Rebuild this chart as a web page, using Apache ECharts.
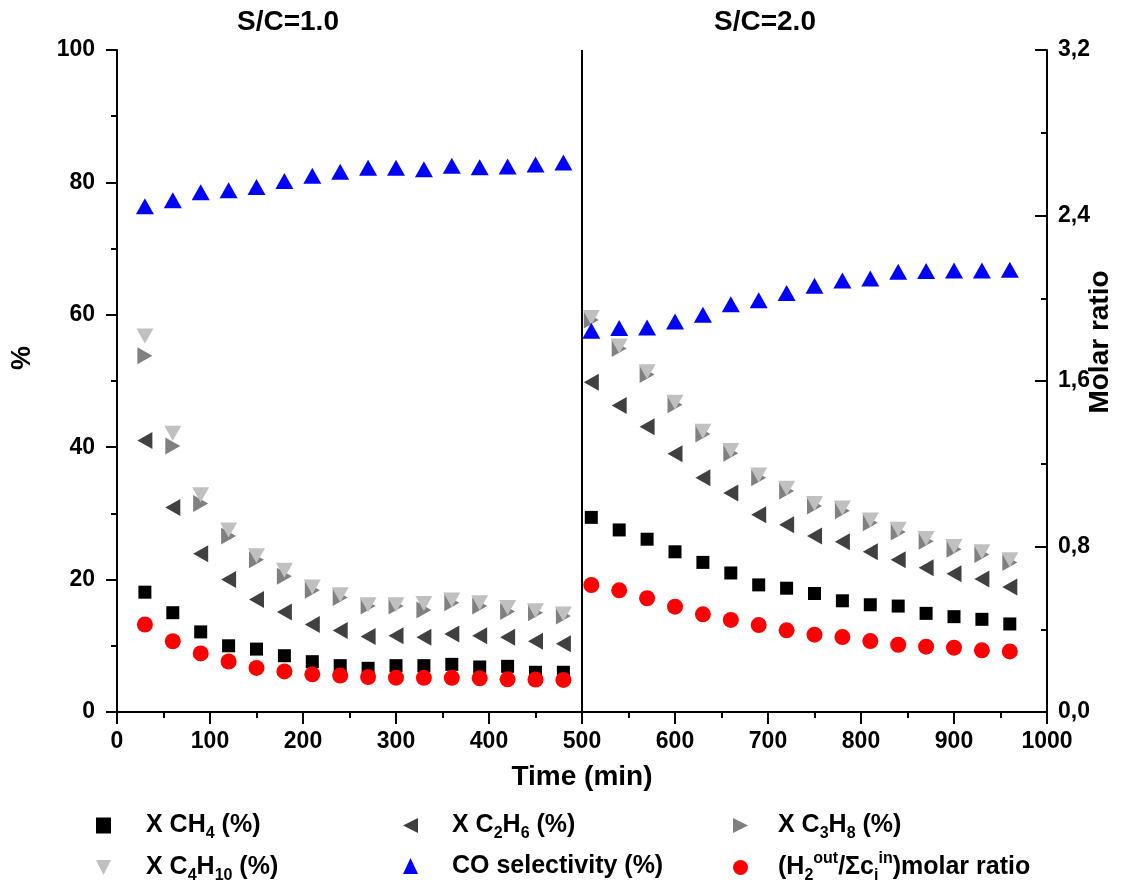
<!DOCTYPE html>
<html>
<head>
<meta charset="utf-8">
<script src="https://cdn.jsdelivr.net/npm/echarts@6/dist/echarts.min.js"></script>
<style>html,body{margin:0;padding:0;background:#fff;}#chart{width:1142px;height:886px;}</style>
</head>
<body>
<div id="chart"></div>
<script>
// ---- data ----
var time = [30,60,90,120,150,180,210,240,270,300,330,360,390,420,450,480,
            510,540,570,600,630,660,690,720,750,780,810,840,870,900,930,960];
var xCH4 = [18.1,15.0,12.1,10.0,9.5,8.5,7.6,7.0,6.6,7.0,7.0,7.2,6.8,6.9,6.0,6.0,
            29.4,27.5,26.1,24.2,22.6,21.0,19.2,18.7,17.9,16.8,16.2,16.0,14.9,14.4,14.0,13.3];
var xC2H6 = [41.0,30.9,23.9,20.0,17.0,15.1,13.2,12.3,11.4,11.5,11.3,11.8,11.5,11.3,10.7,10.3,
             49.8,46.3,43.1,39.0,35.4,33.1,29.8,28.3,26.6,25.7,24.2,23.0,21.8,20.9,20.1,18.9];
var xC3H8 = [53.8,40.2,31.5,26.6,23.0,20.5,18.4,17.3,16.0,16.0,15.4,16.5,16.0,15.2,15.0,14.5,
             59.2,54.9,51.0,46.4,42.0,39.1,35.4,33.4,31.1,30.4,28.6,27.2,25.8,24.6,23.8,22.6];
var xC4H10 = [56.8,42.1,32.8,27.5,23.6,21.4,18.9,17.7,16.2,16.2,16.4,16.9,16.5,15.8,15.3,14.8,
              59.6,55.3,51.4,46.8,42.4,39.5,35.8,33.8,31.5,30.8,29.0,27.6,26.2,25.0,24.2,23.0];
var coSel = [76.4,77.3,78.5,78.8,79.3,80.2,81.0,81.6,82.2,82.2,82.0,82.5,82.3,82.4,82.7,83.0,
             57.6,58.0,58.1,59.0,60.0,61.6,62.2,63.3,64.4,65.2,65.5,66.5,66.6,66.7,66.7,66.8];
var h2Ratio = [0.423,0.342,0.283,0.244,0.213,0.196,0.182,0.176,0.169,0.166,0.165,0.165,0.163,0.158,0.157,0.155,
               0.614,0.588,0.550,0.509,0.472,0.445,0.420,0.395,0.374,0.362,0.343,0.325,0.316,0.311,0.298,0.293];
var phaseLabels = ['S/C=1.0', 'S/C=2.0'];
var switchTime = 500;

// ---- chart ----
var FONT = '"Liberation Sans", Arial, sans-serif';
function pairs(ys) { return time.map(function (t, i) { return [t, ys[i]]; }); }

var names = {
  ch4: 'X CH4 (%)', c2h6: 'X C2H6 (%)', c3h8: 'X C3H8 (%)',
  c4h10: 'X C4H10 (%)', co: 'CO selectivity (%)', h2: 'H2 molar ratio'
};
var legendText = {};
legendText[names.ch4] = 'X CH{sub|4} (%)';
legendText[names.c2h6] = 'X C{sub|2}H{sub|6} (%)';
legendText[names.c3h8] = 'X C{sub|3}H{sub|8} (%)';
legendText[names.c4h10] = 'X C{sub|4}H{sub|10} (%)';
legendText[names.co] = 'CO selectivity (%)';
legendText[names.h2] = '(H{sub|2}{sup|out}/Σc{sub|i}{sup|in})molar ratio';

var richStyles = {
  sub: {fontSize: 16, fontWeight: 'bold', fontFamily: FONT, color: '#000', padding: [17, 0, 0, 0], lineHeight: 30},
  sup: {fontSize: 16, fontWeight: 'bold', fontFamily: FONT, color: '#000', padding: [0, 0, 17, 0], lineHeight: 30}
};

function makeLegend(left, padLeft, data) {
  return {
    left: left, top: 809, orient: 'vertical', itemGap: 9, padding: 0,
    itemWidth: 15, itemHeight: 16,
    data: data,
    formatter: function (n) { return legendText[n]; },
    textStyle: {fontSize: 25, fontWeight: 'bold', fontFamily: FONT, color: '#000',
                lineHeight: 30, padding: [0, 0, 0, padLeft], rich: richStyles}
  };
}

var PATH_LEFT = 'path://M10,0 L10,10 L0,5 Z';
var PATH_RIGHT = 'path://M0,0 L10,5 L0,10 Z';
var PATH_DOWN = 'path://M0,0 L10,0 L5,10 Z';

var chart = echarts.init(document.getElementById('chart'), null, {renderer: 'canvas'});
chart.setOption({
  animation: false,
  backgroundColor: '#fff',
  grid: {left: 117, right: 95, top: 50, bottom: 174, containLabel: false},
  graphic: [
    {type: 'text', x: 288, y: 22, style: {text: phaseLabels[0], textAlign: 'center', textVerticalAlign: 'middle',
      font: 'bold 28px ' + FONT, fill: '#000'}},
    {type: 'text', x: 765, y: 22, style: {text: phaseLabels[1], textAlign: 'center', textVerticalAlign: 'middle',
      font: 'bold 28px ' + FONT, fill: '#000'}},
    {type: 'text', x: 23, y: 358, rotation: Math.PI / 2, style: {text: '%', textAlign: 'center', textVerticalAlign: 'middle',
      font: 'bold 27px ' + FONT, fill: '#000'}},
    {type: 'text', x: 1100, y: 342, rotation: Math.PI / 2, style: {text: 'Molar ratio', textAlign: 'center', textVerticalAlign: 'middle',
      font: 'bold 28px ' + FONT, fill: '#000'}}
  ],
  legend: [
    makeLegend(96, 30, [names.ch4, names.c4h10]),
    makeLegend(403, 29, [names.c2h6, names.co]),
    makeLegend(733, 25, [names.c3h8, names.h2])
  ],
  xAxis: {
    type: 'value', min: 0, max: 1000, interval: 100,
    name: 'Time (min)', nameLocation: 'middle', nameGap: 51,
    nameTextStyle: {fontSize: 28, fontWeight: 'bold', fontFamily: FONT, color: '#000'},
    axisLine: {show: true, onZero: false, lineStyle: {color: '#000', width: 2}},
    axisTick: {show: true, inside: false, length: 12, lineStyle: {color: '#000', width: 2}},
    minorTick: {show: true, splitNumber: 2, length: 6, lineStyle: {color: '#000', width: 2}},
    axisLabel: {fontSize: 23, fontWeight: 'bold', fontFamily: FONT, color: '#000', margin: 18,
      formatter: function (v) { return String(v); }},
    splitLine: {show: false}
  },
  yAxis: [
    {
      type: 'value', min: 0, max: 100, interval: 20, position: 'left',
      axisLine: {show: true, onZero: false, lineStyle: {color: '#000', width: 2}},
      axisTick: {show: true, inside: false, length: 11, lineStyle: {color: '#000', width: 2}},
      minorTick: {show: true, splitNumber: 2, length: 6, lineStyle: {color: '#000', width: 2}},
      axisLabel: {fontSize: 23, fontWeight: 'bold', fontFamily: FONT, color: '#000', margin: 22},
      splitLine: {show: false}
    },
    {
      type: 'value', min: 0, max: 3.2, interval: 0.8, position: 'right',
      axisLine: {show: true, onZero: false, lineStyle: {color: '#000', width: 2}},
      axisTick: {show: true, inside: true, length: 12, lineStyle: {color: '#000', width: 2}},
      minorTick: {show: true, splitNumber: 2, length: 6, lineStyle: {color: '#000', width: 2}},
      axisLabel: {fontSize: 23, fontWeight: 'bold', fontFamily: FONT, color: '#000', margin: 11,
        formatter: function (v) { return v.toFixed(1).replace('.', ','); }},
      splitLine: {show: false}
    }
  ],
  series: [
    {name: names.ch4, type: 'scatter', yAxisIndex: 0, data: pairs(xCH4),
     symbol: 'rect', symbolSize: 13, itemStyle: {color: '#000000', opacity: 1},
     markLine: {silent: true, symbol: 'none', label: {show: false},
       lineStyle: {color: '#000', width: 2, type: 'solid'}, data: [{xAxis: switchTime}]}},
    {name: names.c2h6, type: 'scatter', yAxisIndex: 0, data: pairs(xC2H6),
     symbol: PATH_LEFT, symbolSize: [15, 17], itemStyle: {color: '#404040', opacity: 1}},
    {name: names.c3h8, type: 'scatter', yAxisIndex: 0, data: pairs(xC3H8),
     symbol: PATH_RIGHT, symbolSize: [15, 17], itemStyle: {color: '#808080', opacity: 1}},
    {name: names.c4h10, type: 'scatter', yAxisIndex: 0, data: pairs(xC4H10),
     symbol: PATH_DOWN, symbolSize: [17, 15], itemStyle: {color: '#c0c0c0', opacity: 1}},
    {name: names.co, type: 'scatter', yAxisIndex: 0, data: pairs(coSel),
     symbol: 'triangle', symbolSize: [18, 16], itemStyle: {color: '#0000ff', opacity: 1}},
    {name: names.h2, type: 'scatter', yAxisIndex: 1, data: pairs(h2Ratio),
     symbol: 'circle', symbolSize: 16, itemStyle: {color: '#ff0000', opacity: 1}}
  ]
});
</script>
</body>
</html>
